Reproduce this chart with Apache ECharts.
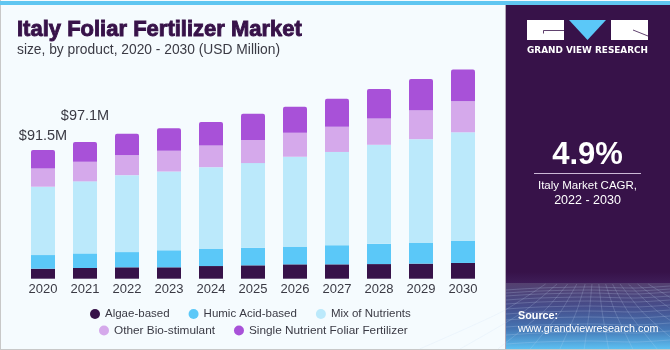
<!DOCTYPE html>
<html><head><meta charset="utf-8">
<style>html,body{margin:0;padding:0;background:#f5fbfe}#c{width:670px;height:350px}</style>
<script src="https://cdn.jsdelivr.net/npm/echarts@6/dist/echarts.min.js"></script>
</head><body><div id="c"></div>
<script>
const years=['2020','2021','2022','2023','2024','2025','2026','2027','2028','2029','2030'];
const algae=[7.1,7.6,8.1,8.1,9.0,9.5,10.2,10.2,10.4,10.7,11.2];
const humic=[9.7,10.4,10.8,12.1,12.1,12.5,12.6,13.6,14.4,14.7,15.6];
const mix=[48.6,51.2,54.7,56.0,58.2,60.2,63.9,66.3,70.4,73.8,77.3];
const other=[12.9,14.0,14.1,14.7,15.4,16.4,17.1,17.9,18.7,20.6,22.0];
const single=[13.2,13.9,15.4,16.1,16.7,18.6,18.5,20.0,20.9,22.1,22.7];
const totals={'2020':'$91.5M','2021':'$97.1M'};
const font='"Liberation Sans",Arial,sans-serif';
const ink='#3a3a44';
const panelX=506;
function topData(){return single.map((v,i)=>{
  const t=totals[years[i]];
  if(!t) return v;
  return {value:v,label:{show:true,position:'top',formatter:t,fontFamily:font,fontSize:14.5,color:ink,
    offset:[0,i===0?-1.5:-14]}};
});}
const mesh=[];
[287,290,293,297,301,306,311,317,324,332,341].forEach((y,i)=>{
  mesh.push({type:'polyline',silent:true,shape:{points:[[panelX,y+3],[540,y+1],[590,y],[635,y+1],[670,y-1]],smooth:.3},
    style:{stroke:'rgba(200,220,245,0.22)',fill:null,lineWidth:1}});
});
[-130,-100,-72,-48,-26,-8,10,28,46,66,88,112,140].forEach(d=>{
  mesh.push({type:'polyline',silent:true,shape:{points:[[595+d*0.38,284],[595+d*0.72,312],[595+d*1.35,349]],smooth:.25},
    style:{stroke:'rgba(200,220,245,0.2)',fill:null,lineWidth:1}});
});
const chart=echarts.init(document.getElementById('c'),null,{renderer:'canvas'});
chart.setOption({
  animation:false,
  backgroundColor:'#f5fbfe',
  grid:{left:22,width:462,top:25.5,height:253.2},
  xAxis:{type:'category',data:years,axisLine:{show:false},axisTick:{show:false},
    axisLabel:{fontFamily:font,fontSize:13,color:ink,margin:4}},
  yAxis:{type:'value',min:0,max:180,show:false},
  legend:[
    {data:['Algae-based','Humic Acid-based','Mix of Nutrients'],left:85,top:303,itemWidth:10,itemHeight:10,itemGap:19,icon:'circle',
      textStyle:{fontFamily:font,fontSize:11.5,color:ink},selectedMode:false},
    {data:['Other Bio-stimulant','Single Nutrient Foliar Fertilizer'],left:94,top:319.5,itemWidth:10,itemHeight:10,itemGap:19,icon:'circle',
      textStyle:{fontFamily:font,fontSize:11.8,color:ink},selectedMode:false}
  ],
  series:[
    {name:'Algae-based',type:'bar',stack:'a',barWidth:24,data:algae,itemStyle:{color:'#371249'}},
    {name:'Humic Acid-based',type:'bar',stack:'a',data:humic,itemStyle:{color:'#5bc8f8'}},
    {name:'Mix of Nutrients',type:'bar',stack:'a',data:mix,itemStyle:{color:'#bbe9fb'}},
    {name:'Other Bio-stimulant',type:'bar',stack:'a',data:other,itemStyle:{color:'#d5a9eb'}},
    {name:'Single Nutrient Foliar Fertilizer',type:'bar',stack:'a',data:topData(),itemStyle:{color:'#a851d8',borderRadius:[2,2,0,0]}}
  ],
  graphic:[
    {type:'rect',silent:true,shape:{x:0,y:0,width:1,height:350},style:{fill:'#c8c8c8'}},
    {type:'rect',silent:true,shape:{x:0,y:349,width:670,height:1},style:{fill:'#c8c8c8'}},
    {type:'rect',silent:true,shape:{x:0,y:1,width:670,height:4},style:{fill:'#5fc6f1'}},
    {type:'text',silent:true,style:{x:17,y:19,text:'Italy Foliar Fertilizer Market',fontFamily:font,fontWeight:'bold',fontSize:22,fill:'#371249',stroke:'#371249',lineWidth:.9}},
    {type:'text',silent:true,style:{x:17,y:43,text:'size, by product, 2020 - 2030 (USD Million)',fontFamily:font,fontSize:13.8,fill:ink}},
    {type:'rect',silent:true,shape:{x:panelX,y:5,width:164,height:344},style:{fill:'#371249'}},
    {type:'rect',silent:true,shape:{x:panelX-1,y:5,width:1,height:344},style:{fill:'#b0a8b8'}},
    {type:'rect',silent:true,shape:{x:panelX,y:272,width:164,height:11},style:{fill:{type:'linear',x:0,y:0,x2:0,y2:1,colorStops:[{offset:0,color:'#371249'},{offset:1,color:'#3e1d58'}]}}},
    {type:'rect',silent:true,shape:{x:panelX,y:283,width:164,height:66},style:{fill:{type:'linear',x:0,y:0,x2:0,y2:1,colorStops:[{offset:0,color:'#54406f'},{offset:.35,color:'#464c8a'},{offset:.7,color:'#4576b4'},{offset:1,color:'#5cc0f2'}]}}},
    {type:'group',silent:true,children:mesh},
    {type:'rect',silent:true,shape:{x:527,y:20,width:37,height:20},style:{fill:'#fff'}},
    {type:'polygon',silent:true,shape:{points:[[569,20],[606,20],[587.5,40]]},style:{fill:'#5bc8f8'}},
    {type:'rect',silent:true,shape:{x:611,y:20,width:37,height:20},style:{fill:'#fff'}},
    {type:'polyline',silent:true,shape:{points:[[564,30.5],[543.5,30.5],[543.5,33.5]]},style:{stroke:'#371249',fill:null,lineWidth:.8}},
    {type:'polyline',silent:true,shape:{points:[[633,30],[648,36]]},style:{stroke:'#371249',fill:null,lineWidth:.8}},
    {type:'text',silent:true,style:{x:587.5,y:50.5,text:'GRAND VIEW RESEARCH',align:'center',verticalAlign:'middle',fontFamily:'"DejaVu Sans",sans-serif',fontWeight:'bold',fontSize:8.9,fill:'#fff'}},
    {type:'text',silent:true,style:{x:587.5,y:155,text:'4.9%',align:'center',verticalAlign:'middle',fontFamily:font,fontWeight:'bold',fontSize:31,fill:'#fff'}},
    {type:'rect',silent:true,shape:{x:534,y:173,width:107,height:1},style:{fill:'#cbb9d6'}},
    {type:'text',silent:true,style:{x:587.5,y:186,text:'Italy Market CAGR,',align:'center',verticalAlign:'middle',fontFamily:font,fontSize:11.5,fill:'#fff'}},
    {type:'text',silent:true,style:{x:587.5,y:201,text:'2022 - 2030',align:'center',verticalAlign:'middle',fontFamily:font,fontSize:12.5,fill:'#fff'}},
    {type:'text',silent:true,style:{x:518,y:316,text:'Source:',verticalAlign:'middle',fontFamily:font,fontWeight:'bold',fontSize:10.8,fill:'#fff'}},
    {type:'text',silent:true,style:{x:518,y:329,text:'www.grandviewresearch.com',verticalAlign:'middle',fontFamily:font,fontSize:10.8,fill:'#fff'}}
  ]
});
</script></body></html>
